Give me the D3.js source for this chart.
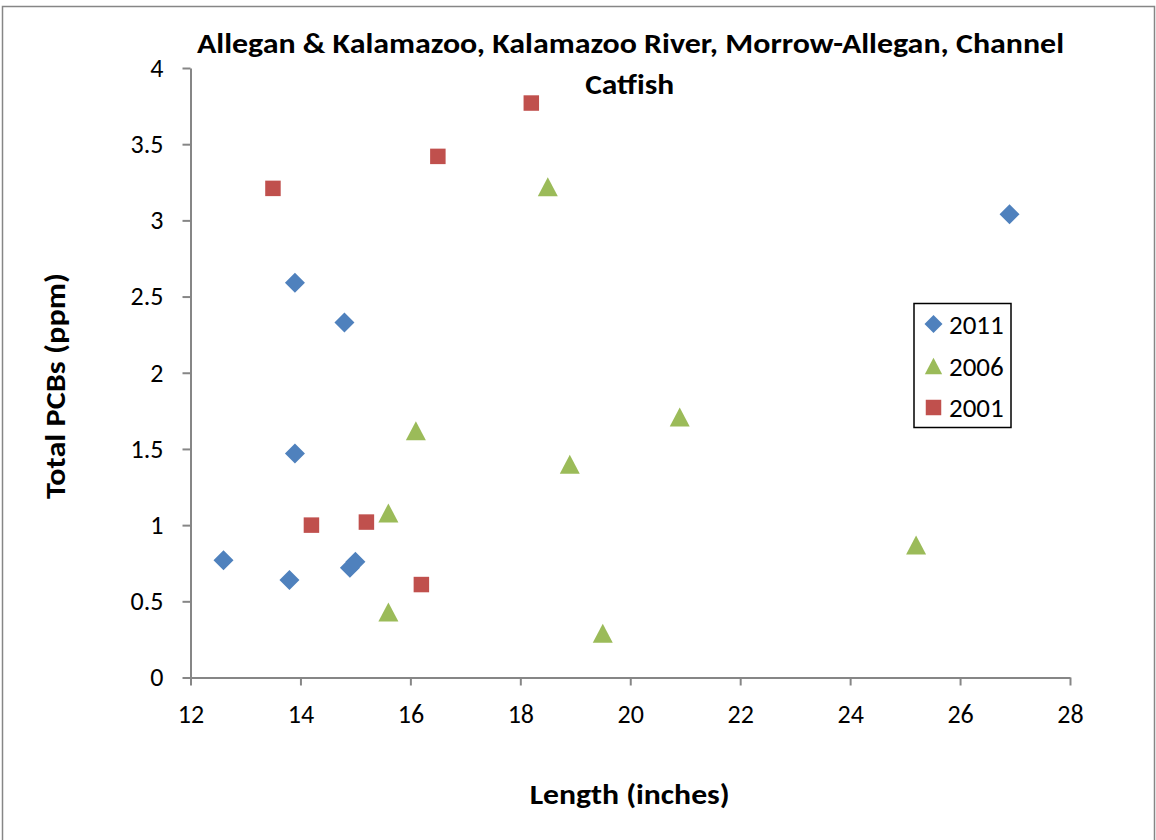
<!DOCTYPE html>
<html>
<head>
<meta charset="utf-8">
<script src="https://cdn.jsdelivr.net/npm/d3@7"></script>
<style>
html,body{margin:0;padding:0;background:#fff;}
svg{display:block;}
text{font-family:Carlito, Calibri, Lato, sans-serif;fill:#000;}
</style>
</head>
<body>
<svg id="chart" width="1156" height="840"></svg>
<script>
const titleLines = ["Allegan & Kalamazoo, Kalamazoo River, Morrow-Allegan, Channel", "Catfish"];
const xTitle = "Length (inches)";
const yTitle = "Total PCBs (ppm)";
const seriesNames = ["2011", "2006", "2001"];
const seriesColors = ["#4F81BD", "#9BBB59", "#C0504D"];
const len2011 = [13.9, 14.8, 13.9, 12.6, 13.8, 14.9, 15.0, 26.9];
const pcb2011 = [2.59, 2.33, 1.47, 0.77, 0.64, 0.72, 0.76, 3.04];
const len2006 = [18.5, 16.1, 18.9, 20.9, 15.6, 15.6, 19.5, 25.2];
const pcb2006 = [3.22, 1.62, 1.40, 1.71, 1.08, 0.43, 0.29, 0.87];
const len2001 = [13.5, 16.5, 18.2, 14.2, 15.2, 16.2];
const pcb2001 = [3.21, 3.42, 3.77, 1.00, 1.02, 0.61];
const xTicks = [12, 14, 16, 18, 20, 22, 24, 26, 28];
const yTicks = [0, 0.5, 1, 1.5, 2, 2.5, 3, 3.5, 4];

const svg = d3.select("#chart");
const axisColor = "#868686";

// outer frame
svg.append("rect").attr("x", 2.5).attr("y", 6.5).attr("width", 1152).attr("height", 840)
  .attr("fill", "none").attr("stroke", "#868686").attr("stroke-width", 1.5);

const x = d3.scaleLinear().domain([12, 28]).range([190.5, 1070]);
const y = d3.scaleLinear().domain([0, 4]).range([677.5, 68]);

// axes
const yAxis = d3.axisLeft(y).tickValues(yTicks).tickSize(8).tickSizeOuter(0).tickPadding(19)
  .tickFormat(d => String(d));
const gy = svg.append("g").attr("transform", `translate(${x(12)},0)`).call(yAxis);
const xAxis = d3.axisBottom(x).tickValues(xTicks).tickSize(8).tickSizeOuter(0).tickPadding(19)
  .tickFormat(d => String(d));
const gx = svg.append("g").attr("transform", `translate(0,${y(0)})`).call(xAxis);
[gx, gy].forEach(g => {
  g.select(".domain").attr("stroke", axisColor).attr("stroke-width", 2);
  g.selectAll(".tick line").attr("stroke", axisColor).attr("stroke-width", 2);
  g.selectAll(".tick text").attr("font-size", 26).attr("font-family", "Carlito, Calibri, Lato, sans-serif").attr("fill", "#000");
});

// symbols
const diamondType = {
  draw(ctx, size) {
    const h = Math.sqrt(size) / 2; // half-diagonal
    ctx.moveTo(0, -h); ctx.lineTo(h, 0); ctx.lineTo(0, h); ctx.lineTo(-h, 0); ctx.closePath();
  }
};
const triangleType = {
  draw(ctx, size) {
    const w = Math.sqrt(size) / 2; // half width
    const hh = w * 0.95;
    ctx.moveTo(0, -hh); ctx.lineTo(w, hh); ctx.lineTo(-w, hh); ctx.closePath();
  }
};
const squareType = {
  draw(ctx, size) {
    const s = Math.sqrt(size) / 2;
    ctx.moveTo(-s, -s); ctx.lineTo(s, -s); ctx.lineTo(s, s); ctx.lineTo(-s, s); ctx.closePath();
  }
};
const series = [
  {name: seriesNames[0], color: seriesColors[0], xs: len2011, ys: pcb2011, type: diamondType, size: 400},
  {name: seriesNames[1], color: seriesColors[1], xs: len2006, ys: pcb2006, type: triangleType, size: 400},
  {name: seriesNames[2], color: seriesColors[2], xs: len2001, ys: pcb2001, type: squareType, size: 240}
];

// draw order: 2001 bottom, then 2006, then 2011
[series[2], series[1], series[0]].forEach(s => {
  const pts = s.xs.map((v, i) => ({x: v, y: s.ys[i]}));
  svg.append("g").selectAll("path").data(pts).join("path")
    .attr("d", d3.symbol().type(s.type).size(s.size))
    .attr("transform", d => `translate(${x(d.x)},${y(d.y)})`)
    .attr("fill", s.color);
});

// title
svg.append("text").attr("x", 630.5).attr("y", 53).attr("text-anchor", "middle")
  .attr("font-size", 28).attr("font-weight", "bold")
  .attr("textLength", 867).attr("lengthAdjust", "spacingAndGlyphs").text(titleLines[0]);
svg.append("text").attr("x", 629.7).attr("y", 94).attr("text-anchor", "middle")
  .attr("font-size", 28).attr("font-weight", "bold")
  .attr("textLength", 89).attr("lengthAdjust", "spacingAndGlyphs").text(titleLines[1]);

// axis titles
svg.append("text").attr("x", 629.7).attr("y", 804).attr("text-anchor", "middle")
  .attr("font-size", 29).attr("font-weight", "bold")
  .attr("textLength", 200).attr("lengthAdjust", "spacingAndGlyphs").text(xTitle);
svg.append("text").attr("transform", "translate(65,386) rotate(-90)").attr("text-anchor", "middle")
  .attr("font-size", 29).attr("font-weight", "bold")
  .attr("textLength", 226).attr("lengthAdjust", "spacingAndGlyphs").text(yTitle);

// legend
const lg = svg.append("g");
lg.append("rect").attr("x", 914).attr("y", 303.5).attr("width", 97).attr("height", 124)
  .attr("fill", "#fff").attr("stroke", "#000").attr("stroke-width", 1.5);
const rowY = [324, 366, 407.5];
const legSizes = [324, 300, 240];
series.forEach((s, i) => {
  lg.append("path").attr("d", d3.symbol().type(s.type).size(legSizes[i])())
    .attr("transform", `translate(933.5,${rowY[i]})`).attr("fill", s.color);
  lg.append("text").attr("x", 949).attr("y", rowY[i] + 9.5).attr("font-size", 27).text(s.name);
});
</script>
</body>
</html>
